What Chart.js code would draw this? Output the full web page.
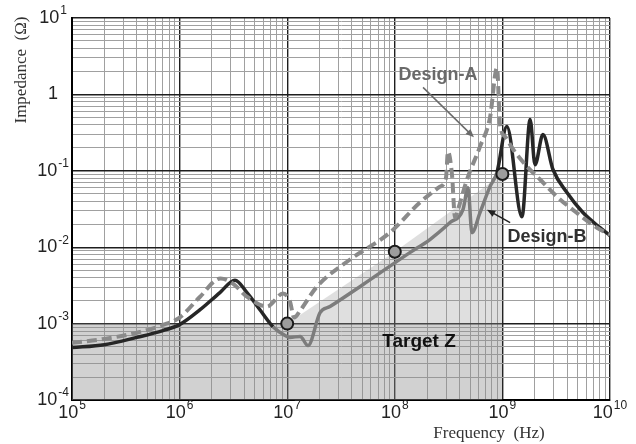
<!DOCTYPE html>
<html>
<head>
<meta charset="utf-8">
<script src="https://cdn.jsdelivr.net/npm/chart.js@4.4.0/dist/chart.umd.min.js"></script>
<style>
  html, body { margin: 0; padding: 0; background: #fff; }
  #wrap { width: 636px; height: 444px; }
</style>
</head>
<body>
<div id="wrap"><canvas id="impChart" width="636" height="444"></canvas></div>
<script>
// Design-A (dashed)
const freqA = [1e5, 2e5, 4e5, 7e5, 1.0e6, 1.55e6, 2.4e6, 3.13e6, 4.23e6, 6.49e6, 9.14e6, 1.06e7, 1.16e7, 1.32e7,
  1.89e7, 3.84e7, 9.0e7, 1.71e8, 2.63e8, 2.99e8, 3.12e8, 3.4e8, 3.63e8, 3.86e8, 4.69e8, 6.19e8, 7.67e8, 8.91e8,
  9.5e8, 1.06e9, 1.26e9, 1.7e9, 2.24e9, 3.21e9, 4.93e9, 7.57e9, 1e10];
const zA = [5.6e-4, 6.3e-4, 7.6e-4, 9.6e-4, 1.2e-3, 2.25e-3, 3.9e-3, 3.34e-3, 2.25e-3, 1.67e-3, 2.47e-3, 1.94e-3, 1.2e-3, 1.48e-3,
  3.05e-3, 6.9e-3, 1.55e-2, 3.84e-2, 6.2e-2, 8.1e-2, 0.178, 8.9e-2, 2.44e-2, 3.1e-2, 7.7e-2, 0.207, 0.497, 2.24,
  0.40, 0.28, 0.19, 0.113, 0.077, 0.046, 0.028, 0.018, 0.0146];

// Design-B (solid)
const freqB = [1e5, 2e5, 4e5, 7e5, 1.0e6, 1.55e6, 2.37e6, 3.27e6, 4.23e6, 5.58e6, 7.38e6, 9.55e6, 1.06e7, 1.32e7,
  1.56e7, 2.02e7, 2.5e7, 5e7, 1.38e8, 2.12e8, 3.26e8, 4.3e8, 4.79e8, 5.21e8, 6.19e8, 7.67e8, 8.9e8, 1.1e9,
  1.52e9, 1.81e9, 2.01e9, 2.38e9, 2.95e9, 3.98e9, 5.6e9, 8.07e9, 1e10];
const zB = [4.85e-4, 5.3e-4, 6.6e-4, 8.1e-4, 9.7e-4, 1.52e-3, 2.55e-3, 3.7e-3, 2.55e-3, 1.52e-3, 9.1e-4, 7.0e-4, 6.6e-4, 6.8e-4,
  5.15e-4, 1.39e-3, 1.67e-3, 3.2e-3, 8.5e-3, 1.26e-2, 2.1e-2, 3.1e-2, 6.0e-2, 1.55e-2, 2.84e-2, 6.2e-2, 9.5e-2, 0.38,
  2.5e-2, 0.468, 0.12, 0.298, 0.104, 0.052, 0.0284, 0.018, 0.0142];

// Target impedance mask and marked points
const targetFreq = [1e5, 1e7, 1e8, 1e9];
const targetZ = [1e-3, 1e-3, 8.7e-3, 9.1e-2];
const bandFreq = [1e5, 1e9];
const bandZ = [1e-3, 1e-3];
const markerFreq = [1e7, 1e8, 1e9];
const markerZ = [1e-3, 8.7e-3, 9.1e-2];

// Axes
const xDecades = [1e5, 1e6, 1e7, 1e8, 1e9, 1e10];
const xTickLabels = ['10^5', '10^6', '10^7', '10^8', '10^9', '10^10'];
const yDecades = [1e-4, 1e-3, 1e-2, 1e-1, 1, 10];
const yTickLabels = ['10^-4', '10^-3', '10^-2', '10^-1', '1', '10^1'];

const pts = (xs, ys) => xs.map((x, i) => ({ x: x, y: ys[i] }));
const isDecade = v => Math.abs(Math.log10(v) - Math.round(Math.log10(v))) < 1e-6;

function logTicks(decades) {
  const t = [];
  decades.forEach((d, i) => {
    if (i === decades.length - 1) { t.push({ value: d }); return; }
    for (let k = 1; k <= 9; k++) t.push({ value: d * k });
  });
  return t;
}

const gridOpts = {
  color: c => (c.tick && isDecade(c.tick.value)) ? '#1e1e1e' : '#a0a0a0',
  lineWidth: c => (c.tick && isDecade(c.tick.value)) ? 1.4 : 1,
  drawTicks: false
};

const SANS = '"Liberation Sans", Arial, sans-serif';
const SERIF = '"Liberation Serif", "Times New Roman", serif';

function drawPow(ctx, label, cx, cy, size) {
  const parts = label.split('^');
  const base = parts[0], exp = parts[1] || '';
  const small = Math.round(size * 0.68);
  ctx.font = size + 'px ' + SANS;
  const wb = ctx.measureText(base).width;
  ctx.font = small + 'px ' + SANS;
  const we = exp ? ctx.measureText(exp).width + 1 : 0;
  const x0 = cx - (wb + we) / 2;
  ctx.textAlign = 'left';
  ctx.textBaseline = 'middle';
  ctx.font = size + 'px ' + SANS;
  ctx.fillText(base, x0, cy);
  if (exp) {
    ctx.font = small + 'px ' + SANS;
    ctx.fillText(exp, x0 + wb + 1, cy - size * 0.38);
  }
}

function arrow(ctx, x1, y1, x2, y2, color) {
  const a = Math.atan2(y2 - y1, x2 - x1);
  ctx.strokeStyle = color;
  ctx.fillStyle = color;
  ctx.lineWidth = 1.5;
  ctx.beginPath();
  ctx.moveTo(x1, y1);
  ctx.lineTo(x2 - 6 * Math.cos(a), y2 - 6 * Math.sin(a));
  ctx.stroke();
  ctx.beginPath();
  ctx.moveTo(x2, y2);
  ctx.lineTo(x2 - 9 * Math.cos(a - 0.4), y2 - 9 * Math.sin(a - 0.4));
  ctx.lineTo(x2 - 9 * Math.cos(a + 0.4), y2 - 9 * Math.sin(a + 0.4));
  ctx.closePath();
  ctx.fill();
}

// text labels and arrows, placed in data coordinates
const notes = [
  { text: 'Design-A', f: 2.52e8, z: 1.77, color: '#6a6a6a', size: 18 },
  { text: 'Design-B', f: 2.6e9, z: 0.0136, color: '#303030', size: 18 },
  { text: 'Target Z', f: 1.68e8, z: 5.8e-4, color: '#111111', size: 19 }
];
const arrows = [
  { f1: 1.83e8, z1: 1.235, f2: 5.44e8, z2: 0.274, color: '#6a6a6a' },
  { f1: 1.18e9, z1: 0.021, f2: 7.19e8, z2: 0.031, color: '#222222' }
];

const decorPlugin = {
  id: 'decor',
  afterDraw(chart) {
    const ctx = chart.ctx;
    const xs = chart.scales.x, ys = chart.scales.y;
    const area = chart.chartArea;
    ctx.save();
    ctx.fillStyle = '#222';
    xDecades.forEach((d, i) => drawPow(ctx, xTickLabels[i], xs.getPixelForValue(d), area.bottom + 13, 18));
    yDecades.forEach((d, i) => drawPow(ctx, yTickLabels[i], area.left - 19, ys.getPixelForValue(d), 18));

    // axis titles
    ctx.fillStyle = '#333';
    ctx.font = '17px ' + SERIF;
    ctx.textAlign = 'center';
    ctx.textBaseline = 'middle';
    ctx.fillText('Frequency  (Hz)', 489, 434);
    ctx.save();
    ctx.translate(22, 70);
    ctx.rotate(-Math.PI / 2);
    ctx.fillText('Impedance  (Ω)', 0, 0);
    ctx.restore();

    arrows.forEach(a => arrow(ctx, xs.getPixelForValue(a.f1), ys.getPixelForValue(a.z1),
      xs.getPixelForValue(a.f2), ys.getPixelForValue(a.z2), a.color));
    notes.forEach(n => {
      ctx.fillStyle = n.color;
      ctx.font = 'bold ' + n.size + 'px ' + SANS;
      ctx.textAlign = 'center';
      ctx.textBaseline = 'middle';
      ctx.fillText(n.text, xs.getPixelForValue(n.f), ys.getPixelForValue(n.z));
    });
    ctx.restore();
  }
};

new Chart(document.getElementById('impChart'), {
  type: 'line',
  data: {
    datasets: [
      {
        label: 'Design-B',
        data: pts(freqB, zB),
        borderColor: '#2a2a2a',
        segment: {
          borderColor: c => (c.p0.parsed.x >= 7e6 && c.p0.parsed.x < 8.9e8) ? '#7c7c7c' : '#262626'
        },
        borderWidth: 3.5,
        pointRadius: 0,
        cubicInterpolationMode: 'monotone',
        fill: false,
        order: 2
      },
      {
        label: 'Design-A',
        data: pts(freqA, zA),
        borderColor: '#8a8a8a',
        borderDash: [10, 5],
        borderWidth: 4,
        pointRadius: 0,
        cubicInterpolationMode: 'monotone',
        fill: false,
        order: 1
      },
      {
        label: 'markers',
        data: pts(markerFreq, markerZ),
        showLine: false,
        pointRadius: 6,
        pointBackgroundColor: '#9c9c9c',
        pointBorderColor: '#1a1a1a',
        pointBorderWidth: 2,
        order: 0
      },
      {
        label: 'Target Z',
        data: pts(targetFreq, targetZ),
        borderWidth: 0,
        borderColor: 'rgba(0,0,0,0)',
        backgroundColor: 'rgba(150,150,150,0.3)',
        pointRadius: 0,
        fill: 'start',
        order: 10
      },
      {
        label: 'band',
        data: pts(bandFreq, bandZ),
        borderWidth: 0,
        borderColor: 'rgba(0,0,0,0)',
        backgroundColor: 'rgba(120,120,120,0.15)',
        pointRadius: 0,
        fill: 'start',
        order: 11
      }
    ]
  },
  options: {
    responsive: false,
    animation: false,
    layout: { padding: { left: 72, top: 18, right: 26, bottom: 44 } },
    plugins: { legend: { display: false }, tooltip: { enabled: false } },
    scales: {
      x: {
        type: 'logarithmic',
        min: 1e5,
        max: 1e10,
        afterBuildTicks: s => { s.ticks = logTicks(xDecades); },
        ticks: { display: false },
        grid: gridOpts,
        border: { color: '#000', width: 2 }
      },
      y: {
        type: 'logarithmic',
        min: 1e-4,
        max: 10,
        afterBuildTicks: s => { s.ticks = logTicks(yDecades); },
        ticks: { display: false },
        grid: gridOpts,
        border: { color: '#000', width: 2 }
      }
    }
  },
  plugins: [decorPlugin]
});
</script>
</body>
</html>
